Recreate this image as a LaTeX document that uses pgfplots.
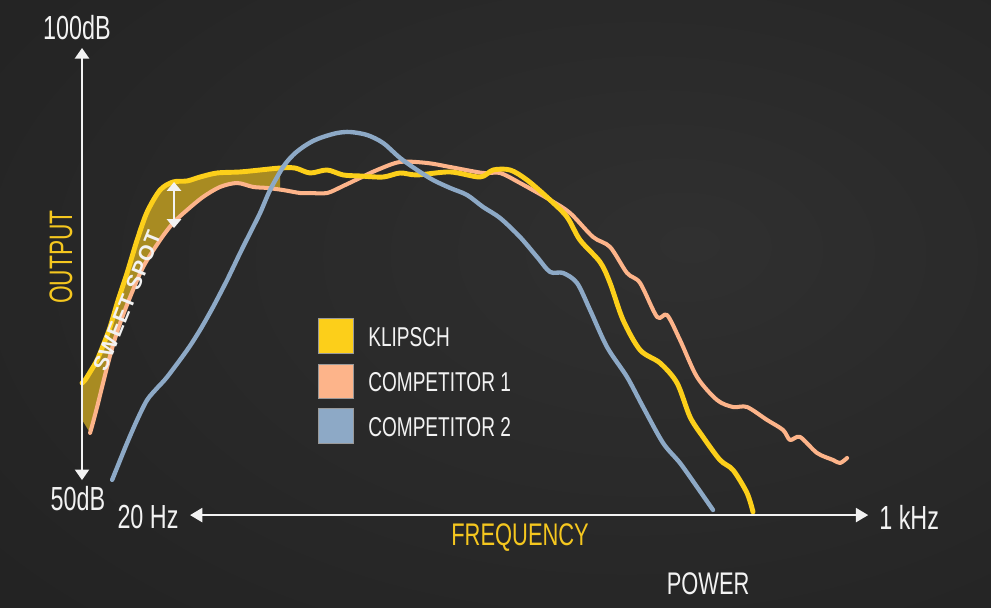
\documentclass[border=0pt]{standalone}
\usepackage{pgfplots}
\pgfplotsset{compat=1.18}
\usepackage{fontspec}
\setmainfont{Liberation Sans}[FakeStretch=0.7]
\newfontfamily\spotfont{Liberation Sans}[LetterSpace=6]
\usetikzlibrary{arrows.meta}

\definecolor{klipsch}{HTML}{FCCF1A}
\definecolor{comp1}{HTML}{FDB48A}
\definecolor{comp2}{HTML}{8DA9C6}
\definecolor{spotfill}{HTML}{A88B22}
\definecolor{txtyellow}{HTML}{F5C71F}
\definecolor{txtwhite}{HTML}{F2F2F2}
\definecolor{bgin}{HTML}{303030}
\definecolor{bgout}{HTML}{171717}
\pgfdeclareradialshading{bgshade}{\pgfpoint{10bp}{5bp}}{color(0bp)=(bgin); color(75bp)=(bgout)}

\begin{document}
\begin{tikzpicture}
\shade[shading=bgshade] (0,0) rectangle (19.82cm,12.16cm);

\begin{axis}[
    at={(0,0)}, anchor=south west,
    scale only axis,
    width=19.82cm, height=12.16cm,
    xmode=log,
    xmin=13.29, xmax=1844.6,
    ymin=34.81, ymax=105.84,
    hide axis,
    clip=false,
]
% sweet spot: area between Klipsch and Competitor 1
\addplot[fill=spotfill, draw=none] coordinates {
    (20.00,61.10) (20.30,61.45) (20.81,62.38) (21.55,63.78) (22.31,65.77)
    (22.99,67.64) (23.93,70.79) (25.02,73.95) (26.30,77.80) (27.64,81.07)
    (29.49,83.64) (31.46,84.58) (33.74,84.70) (35.98,85.16) (39.16,85.63)
    (43.91,85.75) (48.51,85.98) (53.58,86.21) (53.58,83.70)
    (50.23,83.88) (46.85,84.00) (43.26,84.46) (39.75,84.00) (36.52,82.83)
    (33.74,81.31) (31.46,79.79) (29.49,77.80) (27.10,74.65) (25.40,71.14)
    (24.17,68.11) (23.33,65.54) (22.65,62.97) (22.09,60.63) (21.55,58.29)
    (21.13,56.54) (20.81,55.26) (20.00,56.78)
} -- cycle;

% Competitor 1
\addplot[comp1, line width=2.3pt, smooth, line cap=round, line join=round] coordinates {
    (20.81,55.26) (21.13,56.54) (21.55,58.29) (22.09,60.63) (22.65,62.97)
    (23.33,65.54) (24.17,68.11) (25.40,71.14) (27.10,74.65) (29.49,77.80)
    (31.46,79.79) (33.74,81.31) (36.52,82.83) (39.75,84.00) (43.26,84.46)
    (46.85,84.00) (50.23,83.88) (54.39,83.64) (59.20,83.29) (62.22,83.29)
    (67.71,83.29) (73.33,84.11) (79.79,85.05) (86.84,85.98) (97.39,86.92)
    (111.37,86.80) (124.89,86.33) (147.17,85.63) (160.17,85.63) (176.91,84.46)
    (205.43,82.48) (226.87,80.96) (254.42,78.15) (276.90,76.99) (301.34,73.95)
    (321.58,72.78) (349.91,68.81) (367.78,69.04) (392.33,66.12) (426.94,61.80)
    (471.61,59.11) (510.70,58.29) (547.56,58.29) (604.93,56.78) (655.05,55.61)
    (678.29,54.44) (712.91,54.79) (776.01,52.92) (840.46,52.10) (870.26,51.75)
    (901.12,52.34)
};

% Klipsch
\addplot[klipsch, line width=2.8pt, smooth, line cap=round, line join=round] coordinates {
    (20.00,61.10) (20.30,61.45) (20.81,62.38) (21.55,63.78) (22.31,65.77)
    (22.99,67.64) (23.93,70.79) (25.02,73.95) (26.30,77.80) (27.64,81.07)
    (29.49,83.64) (31.46,84.58) (33.74,84.70) (35.98,85.16) (39.16,85.63)
    (43.91,85.75) (48.51,85.98) (53.58,86.21) (57.74,86.21) (62.22,85.63)
    (67.71,85.98) (73.33,85.40) (79.79,85.28) (89.47,85.16) (97.39,85.63)
    (105.96,85.40) (124.89,85.75) (144.99,85.16) (154.67,85.98) (168.35,85.98)
    (183.21,84.81) (205.43,82.48) (223.51,80.49) (238.45,77.80) (263.45,75.23)
    (276.90,72.78) (295.40,68.46) (321.58,64.95) (355.18,63.43) (386.52,61.10)
    (412.33,57.13) (439.87,54.79) (478.70,52.10) (510.70,50.93) (547.56,48.25)
    (564.17,46.03)
};

% Competitor 2
\addplot[comp2, line width=2.5pt, smooth, line cap=round, line join=round] coordinates {
    (23.22,49.77) (24.17,52.10) (25.02,54.09) (26.30,56.78) (27.64,59.11)
    (29.06,60.51) (30.54,61.80) (33.74,64.95) (35.98,67.29) (38.39,69.98)
    (41.16,73.13) (43.91,76.28) (46.15,78.62) (48.51,80.96) (50.98,83.64)
    (54.39,86.33) (57.17,87.73) (60.09,88.67) (63.15,89.37) (66.38,89.84)
    (71.16,90.30) (75.92,90.42) (82.62,90.07) (89.47,89.14) (97.39,87.38)
    (105.96,85.98) (114.74,84.81) (124.89,83.88) (135.89,83.06) (147.17,81.66)
    (160.17,80.37) (176.91,78.15) (192.56,75.82) (205.43,74.07) (219.15,73.95)
    (234.92,72.78) (250.65,69.63) (272.78,65.30) (301.34,61.80) (326.42,58.29)
    (360.52,54.09) (392.33,51.75) (426.94,48.95) (462.31,46.26)
};
\end{axis}

% annotations in pixel units of the 991x608 picture
\begin{scope}[x=0.02cm, y=-0.02cm, yshift=12.16cm]
\draw[txtwhite, line width=1.2pt, {Triangle[width=8pt,length=6pt]}-{Triangle[width=8pt,length=6pt]}] (82,480) -- (82,48);
\draw[txtwhite, line width=1.2pt, {Triangle[width=8pt,length=7pt]}-{Triangle[width=8pt,length=7pt]}] (190,515) -- (868,515);
\draw[txtwhite, line width=1.2pt, {Triangle[width=8pt,length=5pt]}-{Triangle[width=8pt,length=5pt]}] (174,182) -- (174,228);

\node[txtwhite, font=\fontsize{19}{21}\selectfont] at (77,28) {100dB};
\node[txtwhite, font=\fontsize{19}{21}\selectfont] at (78,498) {50dB};
\node[txtwhite, font=\fontsize{19}{21}\selectfont] at (148,517) {20 Hz};
\node[txtwhite, font=\fontsize{19}{21}\selectfont] at (909,517) {1 kHz};
\node[txtyellow, font=\fontsize{17.8}{19}\selectfont] at (520,537) {FREQUENCY};
\node[txtwhite, font=\fontsize{17.8}{19}\selectfont] at (708,584) {POWER};
\node[txtyellow, rotate=90, font=\fontsize{18.5}{20}\selectfont] at (61,257) {OUTPUT};
\node[txtwhite, rotate=68, inner sep=0pt, font=\spotfont\bfseries\fontsize{12}{13}\selectfont] at (127,301) {SWEET SPOT};

\fill[klipsch, draw=black!40, line width=0.4pt] (318,318) rectangle (353,353);
\fill[comp1, draw=black!40, line width=0.4pt] (318,364) rectangle (353,398);
\fill[comp2, draw=black!40, line width=0.4pt] (318,408) rectangle (353,443);
\node[txtwhite, anchor=west, font=\fontsize{15.5}{17}\selectfont] at (362,337) {KLIPSCH};
\node[txtwhite, anchor=west, font=\fontsize{15.5}{17}\selectfont] at (362,382) {COMPETITOR 1};
\node[txtwhite, anchor=west, font=\fontsize{15.5}{17}\selectfont] at (362,427) {COMPETITOR 2};
\end{scope}
\end{tikzpicture}
\end{document}
